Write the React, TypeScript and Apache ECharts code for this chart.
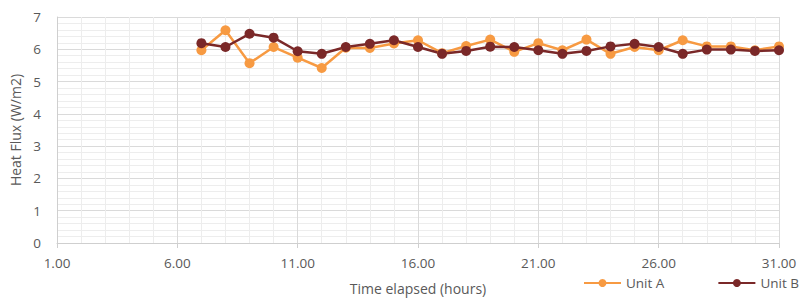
import React, { useEffect, useRef } from "react";
import * as echarts from "echarts";

const hours = [7, 8, 9, 10, 11, 12, 13, 14, 15, 16, 17, 18, 19, 20, 21, 22, 23, 24, 25, 26, 27, 28, 29, 30, 31];
const unitA = [5.97, 6.59, 5.57, 6.07, 5.74, 5.42, 6.05, 6.04, 6.18, 6.28, 5.88, 6.1, 6.3, 5.92, 6.19, 5.97, 6.3, 5.86, 6.07, 5.97, 6.28, 6.09, 6.09, 5.97, 6.09];
const unitB = [6.19, 6.07, 6.48, 6.36, 5.94, 5.86, 6.07, 6.17, 6.28, 6.07, 5.86, 5.95, 6.08, 6.07, 5.97, 5.86, 5.95, 6.09, 6.17, 6.07, 5.86, 5.99, 5.99, 5.95, 5.97];
const seriesNames = ["Unit A", "Unit B"];
const colors = ["#F79A42", "#7A2828"];

export default function App() {
  const ref = useRef<HTMLDivElement>(null);
  useEffect(() => {
    const chart = echarts.init(ref.current!, null, { renderer: "svg" });
    const font = "Open Sans";
    const textColor = "#595959";
    const mk = (name: string, vals: number[], color: string) => ({
      name,
      type: "line",
      data: hours.map((h, i) => [h, vals[i]]),
      symbol: "circle",
      symbolSize: 10,
      itemStyle: { color },
      lineStyle: { color, width: 2.5 },
    });
    chart.setOption({
      animation: false,
      textStyle: { fontFamily: font },
      grid: { left: 57, right: 21, top: 17, bottom: 57 },
      legend: {
        left: 583,
        top: 276,
        width: 217,
        padding: 0,
        itemWidth: 37,
        itemHeight: 10,
        itemGap: 53,
        textStyle: { color: textColor, fontSize: 13.5, fontFamily: font },
        data: seriesNames,
      },
      xAxis: {
        type: "value",
        min: 1,
        max: 31,
        interval: 5,
        name: "Time elapsed (hours)",
        nameLocation: "middle",
        nameGap: 38,
        nameTextStyle: { color: textColor, fontSize: 14, fontFamily: font },
        axisLine: { lineStyle: { color: "#cfcfcf" } },
        axisTick: { show: true, length: 5, lineStyle: { color: "#cfcfcf" } },
        axisLabel: {
          color: textColor,
          fontSize: 13.5,
          margin: 13,
          formatter: (v: number) => v.toFixed(2),
        },
        splitLine: { show: true, lineStyle: { color: "#dadada" } },
        minorTick: { show: false, splitNumber: 5 },
        minorSplitLine: { show: true, lineStyle: { color: "#ededed" } },
      },
      yAxis: {
        type: "value",
        min: 0,
        max: 7,
        interval: 1,
        name: "Heat Flux (W/m2)",
        nameLocation: "middle",
        nameGap: 32,
        nameTextStyle: { color: textColor, fontSize: 14, fontFamily: font },
        axisLine: { show: true, lineStyle: { color: "#cfcfcf" } },
        axisTick: { show: false },
        axisLabel: { color: textColor, fontSize: 13.5, margin: 16 },
        splitLine: { show: true, lineStyle: { color: "#dadada" } },
        minorTick: { show: false, splitNumber: 5 },
        minorSplitLine: { show: true, lineStyle: { color: "#ededed" } },
      },
      series: [mk(seriesNames[0], unitA, colors[0]), mk(seriesNames[1], unitB, colors[1])],
    });
    return () => chart.dispose();
  }, []);
  return <div ref={ref} style={{ width: 800, height: 300, position: "absolute", left: 0, top: 0 }} />;
}
